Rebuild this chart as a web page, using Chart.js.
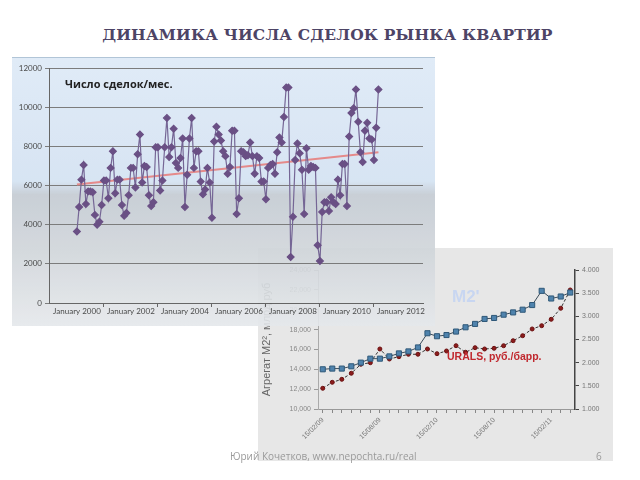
<!DOCTYPE html>
<html>
<head>
<meta charset="utf-8">
<script src="https://cdn.jsdelivr.net/npm/chart.js@4"></script>
<style>
  body { margin: 0; width: 640px; height: 480px; background: #fff; position: relative; overflow: hidden; font-family: Lato, sans-serif; }
  #title { position: absolute; left: 0; width: 655px; top: 25px; text-align: center; font: bold 15.5px "DejaVu Serif", serif; color: #4d4466; letter-spacing: 0.2px; }
  #box1 { position: absolute; left: 12px; top: 57px; width: 423px; height: 269px; z-index: 2; opacity: 0.9;
    background: linear-gradient(to bottom, #dde9f6 0%, #d3e2f2 46%, #c3cad2 51%, #d0d5da 72%, #e5e8eb 100%);
    border-top: 1px solid #a9bfd3; box-sizing: border-box; }
  #box2 { position: absolute; left: 258px; top: 248px; width: 355px; height: 213px; z-index: 1; background: #e7e7e7; }
  #lbl1 { position: absolute; left: 65px; top: 76px; z-index: 3; font: bold 11px "Open Sans", sans-serif; color: #222; }
  #m2 { position: absolute; left: 452px; top: 287px; z-index: 3; font: bold 17px "Liberation Sans", Arial, sans-serif; color: #c8d6f1; }
  #urals { position: absolute; left: 447px; top: 350px; z-index: 3; font: bold 10.5px "Liberation Sans", Arial, sans-serif; color: #c0282e; }
  #foot { position: absolute; left: 230px; top: 449px; z-index: 3; font: 10px "Open Sans", sans-serif; color: #9a9a9a; }
  #page { position: absolute; left: 596px; top: 449px; z-index: 3; font: 10px "Open Sans", sans-serif; color: #9a9a9a; }
</style>
</head>
<body>
<div id="title">ДИНАМИКА ЧИСЛА СДЕЛОК РЫНКА КВАРТИР</div>
<div id="box2"><canvas id="canvas2" width="355" height="213"></canvas></div>
<div id="box1"><canvas id="canvas1" width="423" height="269"></canvas></div>
<div id="lbl1">Число сделок/мес.</div>
<div id="m2">M2'</div>
<div id="urals">URALS, руб./барр.</div>
<div id="foot">Юрий Кочетков, www.nepochta.ru/real</div>
<div id="page">6</div>
<script>
// monthly deals, Jan 2000 .. Mar 2011
const deals = [
  3650, 4900, 6300, 7050, 5050, 5700, 5700, 5650, 4500, 4000, 4150, 5000,
  6250, 6250, 5350, 6900, 7750, 5600, 6300, 6300, 5000, 4450, 4600, 5500,
  6900, 6900, 5900, 7600, 8600, 6150, 7000, 6950, 5500, 4950, 5150, 7950,
  7950, 5750, 6250, 7950, 9450, 7450, 7950, 8900, 7150, 6900,
  7400, 8400, 4900, 6550, 8400, 9450, 6900, 7750, 7750, 6200, 5550, 5800,
  6900, 6150, 4350, 8250, 9000, 8600, 8300, 7750, 7500, 6600, 6950, 8800,
  8800, 4550, 5350, 7750, 7700, 7500, 7550, 8200, 7500, 6600, 7500, 7400,
  6200, 6200, 5300, 6900, 7050, 7100, 6600,
  7700, 8450, 8200, 9500, 11000, 11000, 2350, 4400, 7300, 8150, 7650, 6800,
  4550, 7900, 6800, 7000, 6950, 6900, 2950, 2150, 4650, 5150, 5150, 4700,
  5400, 5150, 5050, 6300, 5500, 7100, 7100, 4950, 8500, 9700, 9950, 10900,
  9250, 7700, 7200, 8800, 9200, 8400, 8350, 7300, 8950, 10900
]
const trendMonths = [0, 134]
const trendValues = [6050, 7700]
const yearTicks = [0, 12, 24, 36, 48, 60, 72, 84, 96, 108, 120, 132, 144]

// second chart: M2 and URALS, Feb 2009 .. Apr 2011
const months2 = ['15/02/09','15/03/09','15/04/09','15/05/09','15/06/09','15/07/09','15/08/09','15/09/09','15/10/09',
  '15/11/09','15/12/09','15/01/10','15/02/10','15/03/10','15/04/10','15/05/10','15/06/10','15/07/10','15/08/10',
  '15/09/10','15/10/10','15/11/10','15/12/10','15/01/11','15/02/11','15/03/11','15/04/11']
const m2 = [14000, 14070, 14070, 14300, 14670, 15070, 15070, 15300, 15600, 15800, 16200, 17630, 17330, 17450,
  17800, 18230, 18570, 19070, 19170, 19500, 19730, 20000, 20470, 21900, 21130, 21330, 21730]
const urals = [1447, 1576, 1641, 1771, 1965, 1999, 2295, 2079, 2129, 2181, 2181, 2295, 2194, 2252,
  2366, 2224, 2323, 2295, 2310, 2366, 2474, 2582, 2727, 2798, 2936, 3174, 3569]

const ctx1 = document.getElementById('canvas1').getContext('2d')
const ctx2 = document.getElementById('canvas2').getContext('2d')

new Chart(ctx1, {
  type: 'line',
  data: {
    datasets: [{
      data: deals.map((v, i) => ({ x: i, y: v })),
      borderColor: '#66558a',
      borderWidth: 1.2,
      pointStyle: 'rectRot',
      pointRadius: 3.4,
      pointBackgroundColor: '#5a3d78',
      pointBorderColor: '#5a3d78',
      tension: 0
    }, {
      data: trendMonths.map((m, i) => ({ x: m, y: trendValues[i] })),
      borderColor: '#e27d7d',
      borderWidth: 2,
      pointRadius: 0
    }]
  },
  options: {
    responsive: false,
    animation: false,
    layout: { padding: { top: 10, right: 12, left: 0, bottom: 0 } },
    plugins: { legend: { display: false }, tooltip: { enabled: false } },
    scales: {
      x: {
        type: 'linear', min: -12.4, max: 153.8,
        afterBuildTicks: s => { s.ticks = yearTicks.map(v => ({ value: v })) },
        afterFit: s => { s.height = 24 },
        ticks: {
          autoSkip: false, maxRotation: 0, padding: 0,
          callback: v => v % 24 === 0 ? 'January ' + (2000 + v / 12) : '',
          font: { family: 'Lato', size: 8 }, color: '#333'
        },
        grid: {
          drawOnChartArea: false, tickLength: 4,
          tickColor: c => (c.tick && c.tick.value % 24 === 12) ? '#555' : 'rgba(0,0,0,0)'
        },
        border: { color: '#555' }
      },
      y: {
        min: 0, max: 12000,
        afterFit: s => { s.width = 37 },
        ticks: { stepSize: 2000, callback: v => String(v), font: { family: 'Lato', size: 8 }, color: '#333', padding: 3 },
        grid: { color: '#6e6e6e', tickLength: 4 },
        border: { color: '#555' }
      }
    }
  }
})

new Chart(ctx2, {
  type: 'line',
  data: {
    labels: months2,
    datasets: [{
      data: m2,
      yAxisID: 'y',
      borderColor: '#3b4c5a',
      borderWidth: 1,
      pointStyle: 'rect',
      pointRadius: 3.6,
      pointBackgroundColor: '#4f83ad',
      pointBorderColor: '#2f5878',
      pointBorderWidth: 1
    }, {
      data: urals,
      yAxisID: 'y1',
      borderColor: '#333',
      borderWidth: 1,
      borderDash: [3, 2],
      pointRadius: 2,
      pointBackgroundColor: '#8b1c1c',
      pointBorderColor: '#6b1010'
    }]
  },
  options: {
    responsive: false,
    animation: false,
    layout: { padding: { top: 22 } },
    plugins: { legend: { display: false }, tooltip: { enabled: false } },
    scales: {
      x: {
        offset: true,
        afterFit: s => { s.height = 52 },
        ticks: {
          autoSkip: false, maxRotation: 45, minRotation: 45,
          callback: (v, i) => i % 6 === 0 ? months2[i] : '',
          font: { family: 'Liberation Sans', size: 7 }, color: '#777'
        },
        grid: { drawOnChartArea: false, tickLength: 4, color: '#888' },
        border: { color: '#999' }
      },
      y: {
        min: 10000, max: 24000,
        afterFit: s => { s.width = 60 },
        ticks: { stepSize: 2000, callback: v => v.toLocaleString('en-US'), font: { family: 'Liberation Sans', size: 7 }, color: '#888' },
        title: { display: true, text: 'Агрегат М2², млрд руб', font: { family: 'Liberation Sans', size: 11 }, color: '#666', padding: 2 },
        grid: { drawOnChartArea: false, tickLength: 4, color: '#999' },
        border: { color: '#aaa' }
      },
      y1: {
        position: 'right',
        min: 1000, max: 4000,
        afterFit: s => { s.width = 38 },
        ticks: { stepSize: 500, callback: v => (v / 1000).toFixed(3), font: { family: 'Liberation Sans', size: 7 }, color: '#777' },
        grid: { drawOnChartArea: false, tickLength: 4, color: '#444' },
        border: { color: '#444', width: 1.5 }
      }
    }
  }
})
</script>
</body>
</html>
